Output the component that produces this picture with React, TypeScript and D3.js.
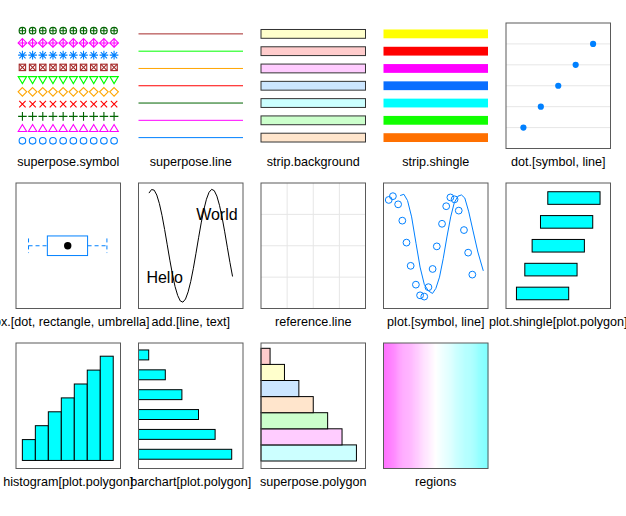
import React from "react";
import * as d3 from "d3";

// ---------- data ----------
const PANEL_TITLES = [
  "superpose.symbol", "superpose.line", "strip.background", "strip.shingle", "dot.[symbol, line]",
  "box.[dot, rectangle, umbrella]", "add.[line, text]", "reference.line", "plot.[symbol, line]", "plot.shingle[plot.polygon]",
  "histogram[plot.polygon]", "barchart[plot.polygon]", "superpose.polygon", "regions",
];
const SUPERPOSE_COLS = ["#0080ff", "#ff00ff", "#006400", "#ff0000", "#ffa500", "#00ff00", "#a52a2a"];
const SYMBOL_PCH = [1, 2, 3, 4, 5, 6, 7, 8, 9, 10];
const SYMBOL_X = [0, 1, 2, 3, 4, 5, 6, 7, 8, 9];
const LINE_LEVELS = [1, 2, 3, 4, 5, 6, 7];
const STRIP_BG_COLS = ["#ffe5cc", "#ccffcc", "#ccffff", "#cce6ff", "#ffccff", "#ffcccc", "#ffffcc"];
const SHINGLE_COLS = ["#ff7000", "#10ff00", "#00ffff", "#0a6eff", "#ff00ff", "#ff0000", "#ffff00"];
const POLY_COLS = ["#ccffff", "#ffccff", "#ccffcc", "#ffe5cc", "#cce6ff", "#ffffcc", "#ffcccc"];
const REGION_COLS = ["#ff70ff", "#ffffff", "#80ffff"];
const DOT_X = [1, 2, 3, 4, 5];
const DOT_Y = [1, 2, 3, 4, 5];
const BOX_STATS = [0.12, 0.3, 0.495, 0.685, 0.87]; // min, q1, median, q3, max
const ADD_X = [0.1, 0.125, 0.15, 0.175, 0.2, 0.225, 0.25, 0.275, 0.3, 0.325, 0.35, 0.375, 0.4, 0.425, 0.45, 0.475, 0.5, 0.525, 0.55, 0.575, 0.6, 0.625, 0.65, 0.675, 0.7, 0.725, 0.75, 0.775, 0.8, 0.825, 0.85, 0.875, 0.9];
const ADD_Y = [0.839, 0.896, 0.886, 0.808, 0.671, 0.484, 0.258, 0.015, -0.23, -0.455, -0.652, -0.793, -0.88, -0.899, -0.849, -0.735, -0.568, -0.359, -0.12, 0.127, 0.364, 0.574, 0.741, 0.852, 0.899, 0.878, 0.791, 0.645, 0.451, 0.222, -0.023, -0.266, -0.49];
const TEXT_LABELS = ["Hello", "World"];
const TEXT_X = [0.25, 0.75];
const TEXT_Y = [-0.5, 0.5];
const REF_V = [0.25, 0.5, 0.75];
const REF_H = [0.25, 0.5, 0.75];
const PTS_X = [0.05, 0.09, 0.14, 0.18, 0.22, 0.26, 0.31, 0.35, 0.39, 0.43, 0.47, 0.51, 0.56, 0.6, 0.64, 0.68, 0.72, 0.77, 0.81, 0.85];
const PTS_Y = [0.73, 0.79, 0.66, 0.4, 0.05, -0.32, -0.62, -0.79, -0.81, -0.66, -0.37, -0.01, 0.35, 0.63, 0.77, 0.74, 0.56, 0.25, -0.11, -0.46];
const LINE_X = [0.159, 0.195, 0.23, 0.269, 0.311, 0.35, 0.391, 0.43, 0.469, 0.501, 0.536, 0.572, 0.607, 0.643, 0.678, 0.713, 0.746, 0.778, 0.816, 0.855, 0.903, 0.955];
const LINE_Y = [0.8, 0.82, 0.72, 0.46, 0.04, -0.34, -0.62, -0.72, -0.76, -0.68, -0.5, -0.2, 0.14, 0.46, 0.69, 0.79, 0.81, 0.76, 0.54, 0.25, -0.1, -0.4];
const SHINGLE_LEVELS = [1, 2, 3, 4, 5];
const SHINGLE_LO = [0.1, 0.18, 0.25, 0.33, 0.4];
const SHINGLE_HI = [0.6, 0.68, 0.75, 0.83, 0.9];
const HIST_BREAKS = [0, 1, 2, 3, 4, 5, 6, 7];
const HIST_COUNTS = [1.5, 2.5, 3.5, 4.5, 5.5, 6.5, 7.5];
const BAR_CATS = ["a", "b", "c", "d", "e", "f"];
const BAR_VALUES = [1, 2, 3, 4, 5, 6];
const POLY_CATS = ["p1", "p2", "p3", "p4", "p5", "p6", "p7"];
const POLY_VALUES = [7, 6, 5, 4, 3, 2, 1];
const REGION_STEPS = d3.range(100);

// ---------- layout ----------
const COLS = [16, 138.5, 261, 383.5, 506];
const ROWS = [23, 183, 343];
const PW = 104.5;
const PH = 125.5;
const FONT = "'Liberation Sans', Arial, Helvetica, sans-serif";
const BORDER = "#5a5a5a";

function Symbol({ pch, x, y, col }: { pch: number; x: number; y: number; col: string }) {
  const r = 3.3;
  const p = { stroke: col, strokeWidth: 1.1, fill: "none" };
  switch (pch) {
    case 1:
      return <circle cx={x} cy={y} r={r} {...p} />;
    case 2:
      return <polygon points={`${x},${y - 4} ${x - 4.2},${y + 3} ${x + 4.2},${y + 3}`} {...p} />;
    case 3:
      return <path d={`M${x - 4.3},${y}H${x + 4.3}M${x},${y - 4.3}V${y + 4.3}`} {...p} />;
    case 4:
      return <path d={`M${x - 3.2},${y - 3.2}L${x + 3.2},${y + 3.2}M${x - 3.2},${y + 3.2}L${x + 3.2},${y - 3.2}`} {...p} />;
    case 5:
      return <polygon points={`${x},${y - 4.3} ${x + 4.3},${y} ${x},${y + 4.3} ${x - 4.3},${y}`} {...p} />;
    case 6:
      return <polygon points={`${x},${y + 4} ${x - 4.2},${y - 3} ${x + 4.2},${y - 3}`} {...p} />;
    case 7:
      return (
        <g {...p}>
          <rect x={x - 3.2} y={y - 3.2} width={6.4} height={6.4} />
          <path d={`M${x - 3.2},${y - 3.2}L${x + 3.2},${y + 3.2}M${x - 3.2},${y + 3.2}L${x + 3.2},${y - 3.2}`} />
        </g>
      );
    case 8:
      return (
        <path
          d={`M${x - 4.3},${y}H${x + 4.3}M${x},${y - 4.3}V${y + 4.3}M${x - 3.1},${y - 3.1}L${x + 3.1},${y + 3.1}M${x - 3.1},${y + 3.1}L${x + 3.1},${y - 3.1}`}
          {...p}
        />
      );
    case 9:
      return (
        <g {...p}>
          <polygon points={`${x},${y - 4.3} ${x + 4.3},${y} ${x},${y + 4.3} ${x - 4.3},${y}`} />
          <path d={`M${x - 4.3},${y}H${x + 4.3}M${x},${y - 4.3}V${y + 4.3}`} />
        </g>
      );
    default:
      return (
        <g {...p}>
          <circle cx={x} cy={y} r={r} />
          <path d={`M${x - r},${y}H${x + r}M${x},${y - r}V${y + r}`} />
        </g>
      );
  }
}

export default function App() {
  const px = (i: number) => COLS[i % 5];
  const py = (i: number) => ROWS[Math.floor(i / 5)];

  const p1x = d3.scaleLinear().domain([-0.63, 9.63]).range([px(0), px(0) + PW]);
  const p1y = d3.scaleLinear().domain([0.37, 10.63]).range([py(0) + PH, py(0)]);
  const lvl = d3.scaleLinear().domain([0.37, 7.63]).range([py(1) + PH, py(1)]);
  const dx = d3.scaleLinear().domain([0, 6]).range([px(4), px(4) + PW]);
  const dy = d3.scaleLinear().domain([0, 6]).range([py(4) + PH, py(4)]);
  const bx = d3.scaleLinear().domain([0, 1]).range([px(5), px(5) + PW]);
  const bcy = py(5) + PH / 2;
  const ax = d3.scaleLinear().domain([0, 1]).range([px(6), px(6) + PW]);
  const ay = d3.scaleLinear().domain([-1, 1]).range([py(6) + PH, py(6)]);
  const addLine = d3.line<number>().x((d, i) => ax(ADD_X[i])).y((d) => ay(d));
  const rx = d3.scaleLinear().domain([0, 1]).range([px(7), px(7) + PW]);
  const ry = d3.scaleLinear().domain([0, 1]).range([py(7) + PH, py(7)]);
  const qx = d3.scaleLinear().domain([0, 1]).range([px(8), px(8) + PW]);
  const qy = d3.scaleLinear().domain([-1, 1]).range([py(8) + PH, py(8)]);
  const qLine = d3.line<number>().x((d, i) => qx(LINE_X[i])).y((d) => qy(d));
  const sx = d3.scaleLinear().domain([0, 1]).range([px(9), px(9) + PW]);
  const sy = d3.scaleLinear().domain([0.37, 5.63]).range([py(9) + PH, py(9)]);
  const hx = d3.scaleLinear().domain([-0.49, 7.56]).range([px(10), px(10) + PW]);
  const hy = d3.scaleLinear().domain([-0.58, 8.45]).range([py(10) + PH, py(10)]);
  const cx = d3.scaleLinear().domain([0.386, 6.68]).range([px(11), px(11) + PW]);
  const cy = d3.scaleBand<string>().domain(BAR_CATS).range([py(11) + 2, py(11) + 121.2]).paddingInner(0.5).paddingOuter(0.25);
  const ox = d3.scaleLinear().domain([0.37, 7.63]).range([px(12), px(12) + PW]);
  const oy = d3.scaleBand<string>().domain(POLY_CATS).range([py(12) + PH - 7.5, py(12) + 5.3]);
  const gx = d3.scaleBand<number>().domain(REGION_STEPS).range([px(13), px(13) + PW]);
  const ramp = d3.scaleLinear<string>().domain([0, 0.5, 1]).range(REGION_COLS).interpolate(d3.interpolateRgb);

  return (
    <svg
      width={626}
      height={516}
      style={{ position: "absolute", left: 0, top: 0, background: "#fff" }}
      fontFamily={FONT}
    >
      {SYMBOL_PCH.map((pch, r) =>
        SYMBOL_X.map((xv) => (
          <Symbol key={`s${r}-${xv}`} pch={pch} x={p1x(xv)} y={p1y(r + 1)} col={SUPERPOSE_COLS[r % 7]} />
        ))
      )}

      {LINE_LEVELS.map((l, i) => (
        <line key={`l${i}`} x1={px(1)} x2={px(1) + PW} y1={lvl(l)} y2={lvl(l)} stroke={SUPERPOSE_COLS[i]} strokeWidth={1} />
      ))}

      {LINE_LEVELS.map((l, i) => (
        <rect key={`sb${i}`} x={px(2)} y={lvl(l) - 4.4} width={PW} height={8.8} fill={STRIP_BG_COLS[i]} stroke="#333" strokeWidth={1} />
      ))}

      {LINE_LEVELS.map((l, i) => (
        <rect key={`ss${i}`} x={px(3)} y={lvl(l) - 4.4} width={PW} height={8.8} fill={SHINGLE_COLS[i]} />
      ))}

      {DOT_Y.map((v, i) => (
        <line key={`dl${i}`} x1={px(4)} x2={px(4) + PW} y1={dy(v)} y2={dy(v)} stroke="#e6e6e6" strokeWidth={1} />
      ))}
      {DOT_X.map((v, i) => (
        <circle key={`dp${i}`} cx={dx(v)} cy={dy(DOT_Y[i])} r={3.1} fill="#0080ff" />
      ))}

      <g stroke="#0080ff" strokeWidth={1} fill="none">
        <line x1={bx(BOX_STATS[0])} x2={bx(BOX_STATS[1])} y1={bcy} y2={bcy} strokeDasharray="4,3" />
        <line x1={bx(BOX_STATS[3])} x2={bx(BOX_STATS[4])} y1={bcy} y2={bcy} strokeDasharray="4,3" />
        <line x1={bx(BOX_STATS[0])} x2={bx(BOX_STATS[0])} y1={bcy - 7.3} y2={bcy + 7.3} strokeDasharray="4,3" />
        <line x1={bx(BOX_STATS[4])} x2={bx(BOX_STATS[4])} y1={bcy - 7.3} y2={bcy + 7.3} strokeDasharray="4,3" />
        <rect x={bx(BOX_STATS[1])} y={bcy - 9.8} width={bx(BOX_STATS[3]) - bx(BOX_STATS[1])} height={19.6} />
      </g>
      <circle cx={bx(BOX_STATS[2])} cy={bcy} r={3.7} fill="#000" />

      <path d={addLine(ADD_Y) || ""} fill="none" stroke="#000" strokeWidth={1} />
      {TEXT_LABELS.map((t, i) => (
        <text key={t} x={ax(TEXT_X[i])} y={ay(TEXT_Y[i])} textAnchor="middle" dominantBaseline="central" fontSize={16} fill="#000">
          {t}
        </text>
      ))}

      {REF_V.map((v, i) => (
        <line key={`rv${i}`} x1={rx(v)} x2={rx(v)} y1={py(7)} y2={py(7) + PH} stroke="#e6e6e6" strokeWidth={1} />
      ))}
      {REF_H.map((v, i) => (
        <line key={`rh${i}`} x1={px(7)} x2={px(7) + PW} y1={ry(v)} y2={ry(v)} stroke="#e6e6e6" strokeWidth={1} />
      ))}

      <path d={qLine(LINE_Y) || ""} fill="none" stroke="#0080ff" strokeWidth={1} />
      {PTS_X.map((v, i) => (
        <circle key={`pp${i}`} cx={qx(v)} cy={qy(PTS_Y[i])} r={3.4} fill="none" stroke="#0080ff" strokeWidth={1} />
      ))}

      {SHINGLE_LEVELS.map((l, i) => (
        <rect
          key={`sh${i}`}
          x={sx(SHINGLE_LO[i])}
          y={sy(l) - 6.3}
          width={sx(SHINGLE_HI[i]) - sx(SHINGLE_LO[i])}
          height={12.6}
          fill="#00ffff"
          stroke="#000"
          strokeWidth={1}
        />
      ))}

      {HIST_COUNTS.map((c, i) => (
        <rect
          key={`h${i}`}
          x={hx(HIST_BREAKS[i])}
          y={hy(c)}
          width={hx(HIST_BREAKS[i + 1]) - hx(HIST_BREAKS[i])}
          height={hy(0) - hy(c)}
          fill="#00ffff"
          stroke="#000"
          strokeWidth={1}
        />
      ))}

      {BAR_CATS.map((c, i) => (
        <rect
          key={`b${i}`}
          x={px(11)}
          y={cy(c)!}
          width={cx(BAR_VALUES[i]) - px(11)}
          height={cy.bandwidth()}
          fill="#00ffff"
          stroke="#000"
          strokeWidth={1}
        />
      ))}

      {POLY_CATS.map((c, i) => (
        <rect
          key={`o${i}`}
          x={px(12)}
          y={oy(c)!}
          width={ox(POLY_VALUES[i]) - px(12)}
          height={oy.bandwidth()}
          fill={POLY_COLS[i]}
          stroke="#000"
          strokeWidth={1}
        />
      ))}

      {REGION_STEPS.map((s) => (
        <rect key={`g${s}`} x={gx(s)!} y={py(13)} width={gx.bandwidth() + 0.4} height={PH} fill={ramp(s / 99)} />
      ))}

      {PANEL_TITLES.map((t, i) =>
        i >= 4 ? (
          <rect key={`bd${i}`} x={px(i)} y={py(i)} width={PW} height={PH} fill="none" stroke={BORDER} strokeWidth={1} />
        ) : null
      )}

      {PANEL_TITLES.map((t, i) => (
        <text key={`t${i}`} x={px(i) + PW / 2} y={py(i) + PH + 17} textAnchor="middle" fontSize={12.6} fill="#000">
          {t}
        </text>
      ))}
    </svg>
  );
}
